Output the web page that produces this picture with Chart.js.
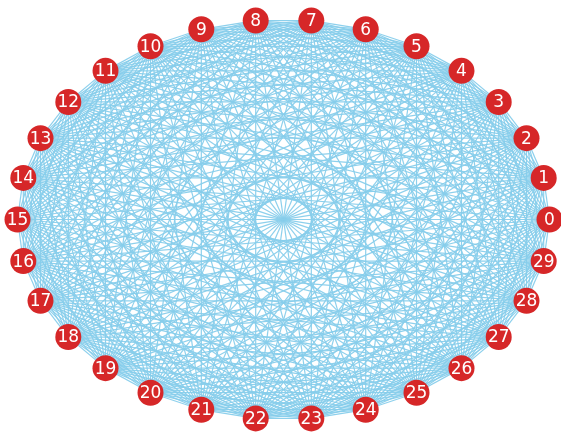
<!DOCTYPE html>
<html>
<head>
<meta charset="utf-8">
<script src="https://cdn.jsdelivr.net/npm/chart.js@4/dist/chart.umd.min.js"></script>
<style>
  html, body { margin: 0; padding: 0; background: #ffffff; }
  #c { display: block; }
</style>
</head>
<body>
<canvas id="c" width="561" height="432"></canvas>
<script>
// Node labels of the complete graph K30
const nodeLabels = [
  '0','1','2','3','4','5','6','7','8','9',
  '10','11','12','13','14','15','16','17','18','19',
  '20','21','22','23','24','25','26','27','28','29'
];

// Every node is joined to every other node (complete graph)
const edgePairs = [];
for (let i = 0; i < nodeLabels.length; i++) {
  for (let j = i + 1; j < nodeLabels.length; j++) edgePairs.push([i, j]);
}

// Circular layout: node i sits at angle 2*pi*i/n on the unit circle
const n = nodeLabels.length;
const layout = nodeLabels.map((_, i) => ({
  x: Math.cos(2 * Math.PI * i / n),
  y: Math.sin(2 * Math.PI * i / n)
}));

const EDGE_COLOR = 'rgba(135,206,235,0.95)';
const NODE_COLOR = '#d62728';

const datasets = edgePairs.map(([a, b]) => ({
  type: 'scatter',
  data: [layout[a], layout[b]],
  showLine: true,
  borderColor: EDGE_COLOR,
  borderWidth: 1.2,
  pointRadius: 0,
  pointHoverRadius: 0,
  fill: false,
  order: 2
}));

datasets.push({
  type: 'scatter',
  data: layout,
  pointRadius: 13,
  pointHoverRadius: 13,
  backgroundColor: NODE_COLOR,
  borderWidth: 0,
  order: 0
});

const nodeLabelPlugin = {
  id: 'nodeLabels',
  afterDatasetsDraw(chart) {
    const ctx = chart.ctx;
    const meta = chart.getDatasetMeta(chart.data.datasets.length - 1);
    ctx.save();
    ctx.fillStyle = '#ffffff';
    ctx.font = '17px "DejaVu Sans"';
    ctx.textAlign = 'center';
    ctx.textBaseline = 'middle';
    meta.data.forEach((pt, i) => {
      ctx.fillText(nodeLabels[i], pt.x, pt.y + 1);
    });
    ctx.restore();
  }
};

new Chart(document.getElementById('c'), {
  type: 'scatter',
  data: { datasets },
  options: {
    responsive: false,
    animation: false,
    events: [],
    layout: { padding: 0, autoPadding: false },
    clip: false,
    plugins: { legend: { display: false }, tooltip: { enabled: false } },
    scales: {
      x: { type: 'linear', display: false, min: -1.0658, max: 1.0432 },
      y: { type: 'linear', display: false, min: -1.0625, max: 1.0975 }
    }
  },
  plugins: [nodeLabelPlugin]
});
</script>
</body>
</html>
